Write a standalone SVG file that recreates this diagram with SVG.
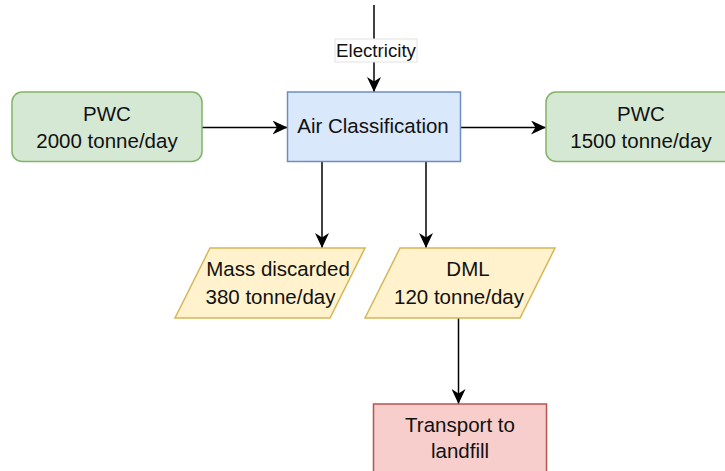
<svg xmlns="http://www.w3.org/2000/svg" width="725" height="471" viewBox="0 0 725 471">
  <style>
    .lbl { font-family: "Liberation Sans", Arial, Helvetica, sans-serif; font-size: 20.5px; fill: #111; text-anchor: middle; }
    .small { font-size: 18.7px; }
    .edge { fill: none; stroke: #000; stroke-width: 1.5; }
    .green { fill: #d5e8d4; stroke: #82b366; stroke-width: 1.5; }
    .blue { fill: #dae8fc; stroke: #6c8ebf; stroke-width: 1.5; }
    .yellow { fill: #fff2cc; stroke: #d6b656; stroke-width: 1.5; }
    .red { fill: #f8cecc; stroke: #b85450; stroke-width: 1.5; }
  </style>
  <defs>
    <marker id="arrow" viewBox="0 0 15 14" refX="15" refY="7" markerWidth="15" markerHeight="14" markerUnits="userSpaceOnUse" orient="auto">
      <path d="M0,0 L15,7 L0,14 L4.5,7 Z" fill="#000"/>
    </marker>
  </defs>
  <rect width="725" height="471" fill="#fff"/>

  <!-- connectors -->
  <g id="edges">
    <line class="edge" x1="374" y1="5" x2="374" y2="92" marker-end="url(#arrow)"/>
    <line class="edge" x1="202" y1="127.5" x2="287.5" y2="127.5" marker-end="url(#arrow)"/>
    <line class="edge" x1="460" y1="127.5" x2="546" y2="127.5" marker-end="url(#arrow)"/>
    <line class="edge" x1="322" y1="162" x2="322" y2="248" marker-end="url(#arrow)"/>
    <line class="edge" x1="426" y1="162" x2="426" y2="248" marker-end="url(#arrow)"/>
    <line class="edge" x1="458.5" y1="318" x2="458.5" y2="404" marker-end="url(#arrow)"/>
    <!-- edge label -->
    <rect x="335" y="39" width="82" height="23" fill="#fff" stroke="#e2e2e2" stroke-width="1"/>
    <text class="lbl small" x="376" y="57">Electricity</text>
  </g>

  <g id="pwc-in">
    <rect class="green" x="12" y="92" width="190" height="69.5" rx="10"/>
    <text class="lbl" x="107" y="121">PWC</text>
    <text class="lbl" x="107" y="148">2000 tonne/day</text>
  </g>

  <g id="air-classification">
    <rect class="blue" x="287.5" y="92" width="173" height="69.5"/>
    <text class="lbl" x="373" y="133">Air Classification</text>
  </g>

  <g id="pwc-out">
    <rect class="green" x="546" y="92" width="190" height="69.5" rx="10"/>
    <text class="lbl" x="641" y="121">PWC</text>
    <text class="lbl" x="641" y="148">1500 tonne/day</text>
  </g>

  <g id="mass-discarded">
    <polygon class="yellow" points="210,248 365,248 330,318 175,318"/>
    <text class="lbl" x="278" y="276">Mass discarded</text>
    <text class="lbl" x="270.5" y="303.5">380 tonne/day</text>
  </g>

  <g id="dml">
    <polygon class="yellow" points="400,248 555,248 520,318 365,318"/>
    <text class="lbl" x="468" y="276">DML</text>
    <text class="lbl" x="459" y="303.5">120 tonne/day</text>
  </g>

  <g id="transport">
    <rect class="red" x="373.5" y="404" width="173" height="69"/>
    <text class="lbl" x="460" y="431.5">Transport to</text>
    <text class="lbl" x="460" y="458">landfill</text>
  </g>
</svg>
